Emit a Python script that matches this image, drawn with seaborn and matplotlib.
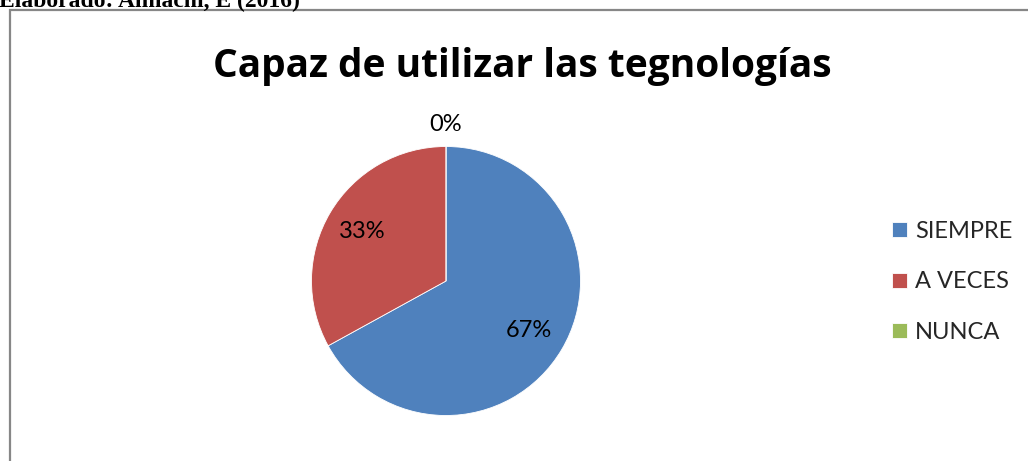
import numpy as np
import matplotlib
matplotlib.use("Agg")
import matplotlib.pyplot as plt
import seaborn as sns
from matplotlib.patches import Rectangle

# data
categories = ["SIEMPRE", "A VECES", "NUNCA"]
values = [67, 33, 0]
colors = ["#4F81BD", "#C0504D", "#9BBB59"]
title = "Capaz de utilizar las tegnologías"
source_note = "Elaborado: Almachi, E (2016)"

sns.set_theme(style="white")
plt.rcParams["font.family"] = ["Lato", "DejaVu Sans"]

W, H = 1028, 461
fig = plt.figure(figsize=(W / 100, H / 100), dpi=100)

# chart frame (continues past right/bottom edge)
fig.patches.append(Rectangle((9.5 / W, -0.05), 1.1, (H - 10.5) / H + 0.05,
                             transform=fig.transFigure, fill=False,
                             edgecolor="#878787", linewidth=1.6, clip_on=False))

# cropped caption line above the frame
fig.text(-1 / W, 1 - 7 / H, source_note, family="Liberation Serif",
         fontweight="bold", fontsize=17, ha="left", va="baseline", color="black")

fig.text(522 / W, 1 - 62 / H, title, fontsize=28, fontweight="bold",
         family=["Open Sans", "DejaVu Sans"],
         ha="center", va="center_baseline", color="black")

# pie axes: center (446, 281), radius 134.5 px
r = 134.5
cx, cy = 446, 281
ax = fig.add_axes([(cx - r) / W, (H - cy - r) / H, 2 * r / W, 2 * r / H])
wedges, texts, autotexts = ax.pie(values, colors=colors, startangle=90,
                                  counterclock=False, autopct="%1.0f%%",
                                  pctdistance=0.72, radius=1,
                                  wedgeprops=dict(edgecolor="white", linewidth=0.6),
                                  textprops=dict(fontsize=17, color="black"))
ax.set_xlim(-1, 1)
ax.set_ylim(-1, 1)
ax.set_aspect("equal")
ax.axis("off")

# zero slice label sits just outside the rim
for w, t, v in zip(wedges, autotexts, values):
    if v == 0:
        ang = np.deg2rad((w.theta1 + w.theta2) / 2)
        t.set_position((1.16 * np.cos(ang), 1.16 * np.sin(ang)))

fig.legend(wedges, categories, loc="center left",
           bbox_to_anchor=(883 / W, 1 - 282 / H), frameon=False,
           fontsize=17, handlelength=0.6, handleheight=0.6,
           handletextpad=0.35, labelspacing=1.25, borderaxespad=0)

fig.savefig("out.png", dpi=100)
